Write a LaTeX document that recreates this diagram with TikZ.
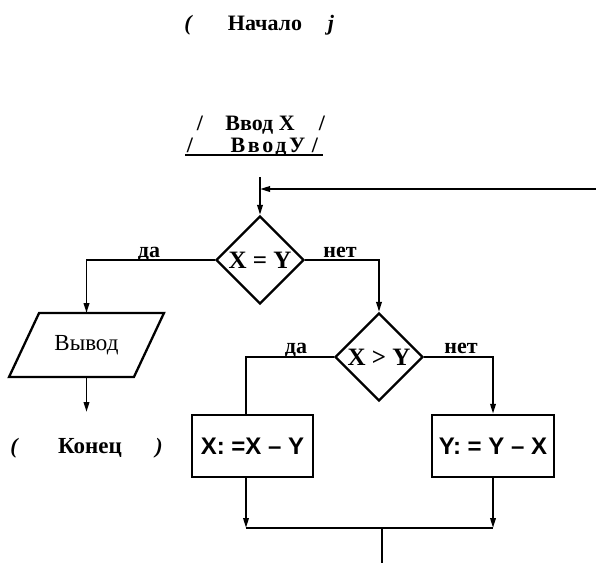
\documentclass[tikz,border=0pt]{standalone}
\usepackage{fontspec}
\setmainfont{Liberation Serif}
\newfontfamily\boxfont{Liberation Sans}
\usetikzlibrary{shapes.geometric,arrows.meta}
\begin{document}
\begin{tikzpicture}[x=1pt,y=-1pt,
  line width=1.9pt,
  arr/.style={-{Stealth[length=10pt,width=5.5pt,inset=0pt]}},
  lbl/.style={font=\fontsize{22}{24}\selectfont\bfseries, inner sep=0pt, anchor=base},
  ttl/.style={font=\fontsize{22}{24}\selectfont\bfseries, inner sep=0pt, anchor=base},
  brk/.style={font=\fontsize{22}{24}\selectfont\bfseries\itshape, inner sep=0pt, anchor=base},
  sl/.style={font=\fontsize{22}{24}\selectfont\bfseries, inner sep=0pt, anchor=base},
  dec/.style={draw, diamond, aspect=1, minimum width=88pt, minimum height=88pt, inner sep=0pt, line width=2.3pt, font=\fontsize{25}{27}\selectfont\bfseries},
  proc/.style={draw, rectangle, line width=2.5pt, inner sep=0pt, minimum height=62pt, font=\boxfont\bfseries\fontsize{24}{26}\selectfont},
  io/.style={rectangle, inner sep=0pt, minimum width=123pt, minimum height=62pt, font=\fontsize{23}{26}\selectfont},
]
\useasboundingbox (0,0) rectangle (596,563);

% start
\node[brk] (s1) at (188,30) {(};
\node[ttl] (start) at (265,30) {Начало};
\node[brk] (s2) at (331,30) {j};

% input
\node[ttl] (in1) at (260,130) {Ввод X};
\node[sl] (in1a) at (200,130) {/};
\node[sl] (in1b) at (322,130) {/};
\node[ttl] (in2) at (268,152) {\addfontfeature{LetterSpace=12}ВводУ};
\node[sl] (in2a) at (190,152) {/};
\node[sl] (in2b) at (315,152) {/};
\coordinate (ul1) at (185,155);
\coordinate (ul2) at (323,155);
\draw (ul1) -- (ul2);

% decisions
\node[dec] (d1) at (260,260) {\makebox[0pt]{X = Y}};
\node[dec] (d2) at (379,357) {\makebox[0pt]{X > Y}};

% output
\node[io] (vy) at (86.5,345) {Вывод};
\draw[line width=2.3pt] ([xshift=15pt]vy.north west) -- ([xshift=15pt]vy.north east)
  -- ([xshift=-15pt]vy.south east) -- ([xshift=-15pt]vy.south west) -- cycle;

% end
\node[brk] (e1) at (14,453) {(};
\node[ttl, font=\fontsize{23}{26}\selectfont\bfseries] (fin) at (90,453) {Конец};
\node[brk] (e2) at (159,453) {)};

% process boxes
\node[proc, minimum width=121pt] (lbox) at (252.5,446) {X: =X – Y};
\node[proc, minimum width=122pt] (rbox) at (493,446) {Y: = Y – X};

% labels
\node[lbl] (l1) at (149,257) {да};
\node[lbl] (l2) at (340,257) {нет};
\node[lbl] (l3) at (296,353) {да};
\node[lbl] (l4) at (461,353) {нет};

% connectors
\coordinate (top) at (260,177);
\coordinate (ret) at (596,189);
\coordinate (la) at (246,0);
\coordinate (ea) at (87,412);
\coordinate (j) at (382,528);
\coordinate (bot) at (382,563);

\draw[arr] (top) -- (d1.north);
\draw[arr] (ret) -- (ret -| top);
\draw[arr] (d1.west) -| (vy.north);
\draw[arr] (d1.east) -| (d2.north);
\draw (d2.west) -| (la |- lbox.north);
\draw[arr] (d2.east) -| (rbox.north);
\draw[arr] (vy.south) -- (vy.south |- ea);
\draw[arr] (la |- lbox.south) -- (la |- j);
\draw[arr] (rbox.south) -- (rbox.south |- j);
\draw (la |- j) -- (rbox.south |- j);
\draw (j) -- (bot);
\end{tikzpicture}
\end{document}
